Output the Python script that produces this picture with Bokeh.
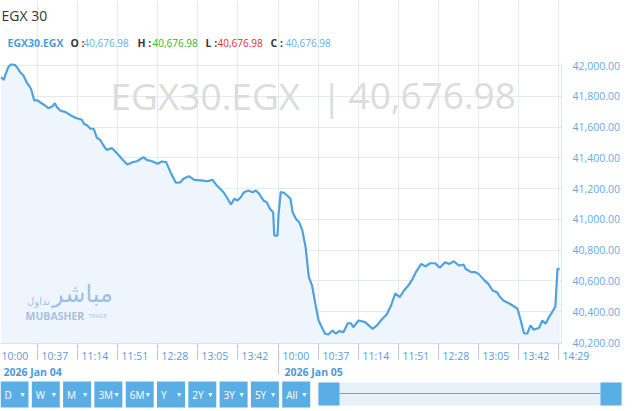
from bokeh.plotting import figure
from bokeh.models import Range1d, FixedTicker, NumeralTickFormatter, Label, Grid
from bokeh.layouts import column
from bokeh.embed import file_html
from bokeh.resources import INLINE
from bokeh.core.properties import value

# ---------------- data ----------------
title_text = "EGX 30"
symbol = "EGX30.EGX"
ohlc_keys = ["O", "H", "L", "C"]
ohlc_vals = [40676.98, 40676.98, 40676.98, 40676.98]
last_value = 40676.98

# trading-minute index (continuous across the two sessions) and index level
minute_idx = [3, 6, 7, 10, 12, 16, 18, 21, 24, 27,
              31, 34, 37, 40, 44, 47, 51, 53, 55, 58,
              63, 68, 72, 75, 78, 80, 83, 86, 89, 92,
              95, 98, 101, 106, 111, 115, 120, 125, 129, 135,
              138, 143, 148, 152, 156, 160, 165, 169, 172, 177,
              182, 188, 194, 199, 202, 206, 209, 212, 216, 219,
              222, 225, 228, 232, 236, 239, 242, 246, 249, 252,
              255, 256, 259, 260, 262, 265, 268, 271, 273, 276,
              279, 282, 285, 288, 291, 294, 297, 300, 303, 306,
              310, 313, 316, 320, 324, 327, 329, 334, 340, 347,
              351, 356, 360, 364, 368, 372, 376, 380, 384, 387,
              392, 396, 400, 405, 409, 414, 418, 422, 427, 431,
              433, 438, 442, 445, 450, 454, 458, 462, 465, 468,
              473, 478, 481, 484, 487, 490, 493, 496, 501, 504,
              507, 510, 513, 516, 518, 520]
close = [41924, 41907, 41935, 41989, 42006, 42005, 41989, 41956, 41935, 41891,
         41849, 41773, 41773, 41758, 41740, 41723, 41736, 41755, 41729, 41708,
         41697, 41675, 41660, 41654, 41647, 41621, 41610, 41589, 41589, 41530,
         41517, 41480, 41452, 41463, 41426, 41394, 41357, 41372, 41378, 41404,
         41387, 41378, 41361, 41376, 41372, 41307, 41238, 41240, 41264, 41281,
         41257, 41253, 41248, 41257, 41227, 41199, 41177, 41144, 41097, 41134,
         41123, 41144, 41177, 41188, 41177, 41188, 41166, 41123, 41112, 41069,
         41047, 40895, 40895, 41036, 41177, 41173, 41155, 41134, 41047, 41004,
         40982, 40928, 40819, 40624, 40570, 40451, 40343, 40299, 40257, 40252,
         40278, 40257, 40274, 40267, 40325, 40325, 40299, 40343, 40332, 40289,
         40311, 40354, 40382, 40440, 40520, 40494, 40538, 40570, 40614, 40657,
         40711, 40694, 40715, 40715, 40685, 40722, 40711, 40728, 40700, 40707,
         40679, 40657, 40657, 40646, 40607, 40581, 40538, 40527, 40494, 40473,
         40455, 40434, 40419, 40343, 40260, 40257, 40311, 40283, 40296, 40343,
         40322, 40364, 40397, 40434, 40679, 40676.98]

tick_idx = [0, 37, 74, 111, 148, 185, 222, 260, 297, 334, 371, 408, 445, 482, 519]
tick_lbl = ["10:00", "10:37", "11:14", "11:51", "12:28", "13:05", "13:42",
            "10:00", "10:37", "11:14", "11:51", "12:28", "13:05", "13:42", "14:29"]
day_idx = [0, 260]
day_lbl = ["2026 Jan 04", "2026 Jan 05"]
y_ticks = [40200, 40400, 40600, 40800, 41000, 41200, 41400, 41600, 41800, 42000]
range_btns = ["D", "W", "M", "3M", "6M", "Y", "2Y", "3Y", "5Y", "All"]

# ---------------- style / layout ----------------
FONT = "Open Sans"
LINE = "#4ea3dc"
FILL = "#eef5fc"
GRID = "#e5eaef"
TICKC = "#5a9cd6"
BTN = "#5aaee6"
SEP = "#b5c6d6"

W, H_MAIN, H_BOT = 640, 349, 62
FRAME_W = 561
PX_PER_IDX = 1.0811          # horizontal scale of the chart
IDX_AT_0 = 3 / PX_PER_IDX    # index shown at the left edge
CHART_TOP, CHART_BOT = 63, 343   # chart area in pixels from the top
V_TOP, V_BOT = 42000, 40200      # values at pixel rows 65 / 342
UPP = (V_TOP - V_BOT) / (342 - 65)   # value units per pixel

x_start = IDX_AT_0
x_end = IDX_AT_0 + FRAME_W / PX_PER_IDX
y_top = V_TOP + 65 * UPP
y_bot = V_BOT - (H_MAIN - 342) * UPP
CH1 = V_TOP + (65 - CHART_TOP) * UPP
CH0 = V_BOT - (CHART_BOT - 342) * UPP

p = figure(width=W, height=H_MAIN, output_backend="svg", toolbar_location=None,
           x_range=Range1d(x_start, x_end), y_range=Range1d(y_bot, y_top),
           x_axis_location=None, y_axis_location="right",
           min_border_left=0, min_border_right=W - FRAME_W, min_border_top=0, min_border_bottom=0)
p.frame_align = False
p.outline_line_color = None
p.background_fill_color = "white"
for g in p.xgrid:
    g.visible = False

# y axis on the right
p.yaxis.ticker = FixedTicker(ticks=y_ticks)
p.yaxis.formatter = NumeralTickFormatter(format="0,0.00")
p.yaxis.major_label_text_font = FONT
p.yaxis.major_label_text_font_size = "10.5px"
p.yaxis.major_label_text_color = "#6aa9dd"
p.yaxis.major_label_standoff = 11
p.yaxis.major_tick_in = 0
p.yaxis.major_tick_out = 0
p.yaxis.minor_tick_line_color = None
p.yaxis.axis_line_color = "#dce6ef"
p.yaxis.bounds = (CH0, CH1)
p.ygrid.grid_line_color = GRID

# vertical grid at the time separators, limited to the chart area
p.add_layout(Grid(dimension=0, ticker=FixedTicker(ticks=tick_idx), bounds=(CH0, CH1),
                  grid_line_color=GRID))

# area + line
p.varea(x=minute_idx, y1=CH0, y2=close, fill_color=FILL, fill_alpha=1.0)
p.line(minute_idx, close, line_color=LINE, line_width=2.2)
p.line(x=[x_start, x_end], y=[CH0, CH0], line_color="#dbe4ec", line_width=1)
# upper part of the time separators (continued in the lower figure)
p.segment(x0=tick_idx, y0=CH0, x1=tick_idx, y1=y_bot, line_color=SEP, line_width=1)


def lab(text, x, y_px, xu="screen", **kw):
    """y_px: pixel row from the top of the chart figure."""
    opts = dict(text_font=FONT, text_baseline="middle", text_align="left")
    opts.update(kw)
    p.add_layout(Label(x=x, y=H_MAIN - y_px, x_units=xu, y_units="screen", text=text, **opts))


# header
lab(title_text, 1, 15, text_font_size="14px", text_color="#333333")
lab(symbol, 7, 42, text_font_size="10.5px", text_font_style="bold", text_color="#4c9bd9")
key_x = [70, 137, 205, 270]
val_x = [83, 152, 217, 285]
val_c = ["#6aaee0", "#2fb52f", "#d9322b", "#6aaee0"]
for k, v, kx, vx, c in zip(ohlc_keys, ohlc_vals, key_x, val_x, val_c):
    lab(k + " :", kx, 42, text_font_size="10.5px", text_font_style="bold", text_color="#333333")
    lab(f"{v:,.2f}", vx, 42, text_font_size="10px", text_color=c)

# watermark
lab(symbol, 110, 95, text_font_size="37px", text_color="#dcdcdc")
lab("|", 321, 95, text_font_size="37px", text_color="#dcdcdc")
lab(f"{last_value:,.2f}", 348, 95, text_font_size="37px", text_color="#dcdcdc")

# logo
lab("مباشر", 82, 293, text_align="center", text_font="DejaVu Sans", text_font_size="24px",
    text_color="#8fb6e3", text_alpha=0.85)
lab("تداول", 38, 301, text_align="center", text_font="DejaVu Sans", text_font_size="10px",
    text_color="#8fb6e3", text_alpha=0.85)
lab("MUBASHER", 25, 315, text_font_size="10.5px", text_font_style="bold",
    text_color="#9fbad9", text_alpha=0.9)
lab("TRADE", 88, 315, text_font_size="6px", text_color="#9fbad9", text_alpha=0.9)

# ---------------- time labels, range selector + navigator ----------------
b = figure(width=W, height=H_BOT, output_backend="svg", toolbar_location=None,
           x_range=Range1d(x_start, IDX_AT_0 + W / PX_PER_IDX),
           y_range=Range1d(H_MAIN + H_BOT, H_MAIN),
           x_axis_location=None, y_axis_location=None, min_border=0)
b.frame_align = False
b.extra_x_ranges = {"px": Range1d(0, W)}
b.outline_line_color = None
b.grid.visible = False
b.background_fill_color = "white"

# lower part of the separators, longer at each session start
b.segment(x0=tick_idx, y0=H_MAIN, x1=tick_idx, y1=359, line_color=SEP, line_width=1)
b.segment(x0=day_idx, y0=H_MAIN, x1=day_idx, y1=374, line_color=SEP, line_width=1)
b.text(x=tick_idx, y=355, text=tick_lbl, x_offset=4, text_baseline="middle",
       text_font=value(FONT), text_font_size="10.5px", text_color=TICKC)
b.text(x=day_idx, y=371, text=day_lbl, x_offset=6, text_baseline="middle",
       text_font=value(FONT), text_font_size="10.5px", text_font_style="bold",
       text_color="#4f98d6")

lefts = [i * 31.3 for i in range(len(range_btns))]
rights = [l + 28 for l in lefts]
b.quad(left=lefts, right=rights, top=381, bottom=407, fill_color=BTN, line_color=None,
       x_range_name="px")
b.text(x=[l + 4 for l in lefts], y=394, text=range_btns, text_baseline="middle",
       text_font=value(FONT), text_font_size="10px", text_color="white", x_range_name="px")
b.text(x=[l + 20 for l in lefts], y=394, text=["▾"] * len(range_btns), text_baseline="middle",
       text_font=value("DejaVu Sans"), text_font_size="8px", text_color="white",
       x_range_name="px")

b.quad(left=[317], right=[622], top=[382], bottom=[405], fill_color="#e8f1f9", line_color=None,
       x_range_name="px")
b.segment(x0=[339], y0=[393], x1=[600], y1=[393], line_color=BTN, line_width=1.2,
          x_range_name="px")
b.quad(left=[318, 600], right=[339, 621], top=[382, 382], bottom=[405, 405],
       fill_color=BTN, line_color=None, x_range_name="px")

layout = column(p, b, spacing=0)
open("out.html", "w").write(file_html(layout, INLINE))
